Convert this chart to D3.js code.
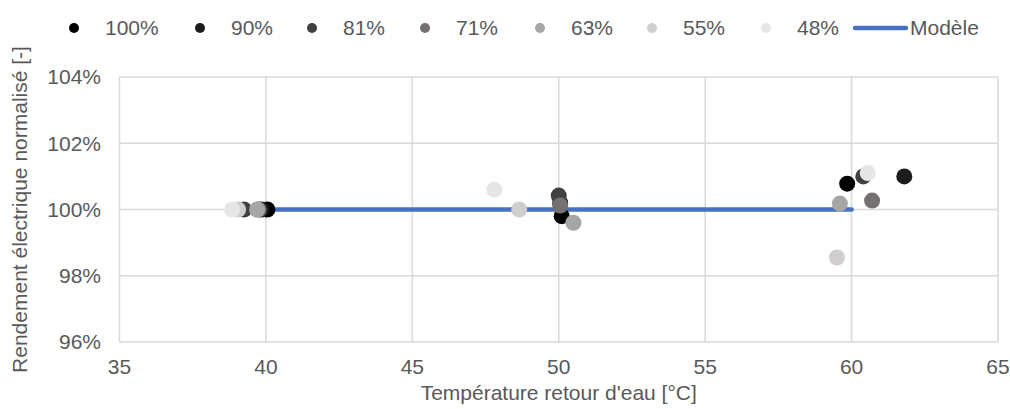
<!DOCTYPE html>
<html><head><meta charset="utf-8">
<script src="https://cdn.jsdelivr.net/npm/d3@7"></script>
<style>body{margin:0;background:#fff;} text{font-family:"Liberation Sans",Arial,sans-serif;fill:#595959;}</style>
</head><body>
<svg id="c" width="1010" height="409"></svg>
<script>
const seriesNames = ["100%","90%","81%","71%","63%","55%","48%"];
const seriesColors = ["#000000","#1c1c1c","#404040","#767171","#a6a6a6","#d0cece","#e7e6e6"];
const temps = [
  [40.05, 50.1, 59.85],
  [39.85, 50.05, 61.8],
  [39.25, 50.0, 60.4],
  [39.75, 50.05, 60.7],
  [39.7, 50.5, 59.6],
  [39.05, 48.65, 59.5],
  [38.85, 47.8, 60.55]
];
const rendements = [
  [1.000, 0.998, 1.0078],
  [1.000, 1.002, 1.0100],
  [1.000, 1.0042, 1.0100],
  [1.000, 1.0012, 1.0027],
  [1.000, 0.996, 1.0018],
  [1.000, 1.000, 0.9855],
  [1.000, 1.006, 1.0110]
];
const modelT = [40, 60];
const modelR = [1.0, 1.0];
const xTicks = [35,40,45,50,55,60,65];
const yTicks = [0.96,0.98,1.00,1.02,1.04];

const FS = 21;
const svg = d3.select("#c");
const x = d3.scaleLinear().domain([35,65]).range([119.5,998]);
const y = d3.scaleLinear().domain([0.96,1.04]).range([342,77]);

// gridlines
svg.append("g").selectAll("line").data(xTicks).join("line")
  .attr("x1",d=>x(d)).attr("x2",d=>x(d)).attr("y1",y(1.04)).attr("y2",y(0.96))
  .attr("stroke","#d9d9d9").attr("stroke-width",1.5);
svg.append("g").selectAll("line").data(yTicks).join("line")
  .attr("y1",d=>y(d)).attr("y2",d=>y(d)).attr("x1",x(35)).attr("x2",x(65))
  .attr("stroke","#d9d9d9").attr("stroke-width",1.5);

// tick labels
svg.append("g").selectAll("text").data(yTicks).join("text")
  .attr("x",101).attr("y",d=>y(d)).attr("dy","0.35em").attr("text-anchor","end")
  .attr("font-size",FS).text(d=>d3.format(".0%")(d));
svg.append("g").selectAll("text").data(xTicks).join("text")
  .attr("x",d=>x(d)).attr("y",367).attr("dy","0.35em").attr("text-anchor","middle")
  .attr("font-size",FS).text(d=>d);

// axis titles
svg.append("text").attr("x",(x(35)+x(65))/2).attr("y",393).attr("dy","0.35em")
  .attr("text-anchor","middle").attr("font-size",FS).text("Température retour d'eau [°C]");
svg.append("text").attr("transform",`translate(20,${(y(0.96)+y(1.04))/2}) rotate(-90)`)
  .attr("dy","0.35em").attr("text-anchor","middle").attr("font-size",FS)
  .text("Rendement électrique normalisé [-]");

// model line
const line = d3.line().x(d=>x(d[0])).y(d=>y(d[1]));
svg.append("path").datum(modelT.map((t,i)=>[t,modelR[i]])).attr("d",line)
  .attr("fill","none").attr("stroke","#4472c4").attr("stroke-width",4.5).attr("stroke-linecap","round");

// points
seriesNames.forEach((n,i)=>{
  svg.append("g").selectAll("circle").data(temps[i].map((t,j)=>[t,rendements[i][j]])).join("circle")
    .attr("cx",d=>x(d[0])).attr("cy",d=>y(d[1])).attr("r",8).attr("fill",seriesColors[i]);
});

// legend
const legX = [74,200,312,425,540,652,766];
const lg = svg.append("g");
seriesNames.forEach((n,i)=>{
  lg.append("circle").attr("cx",legX[i]).attr("cy",28).attr("r",5).attr("fill",seriesColors[i]);
  lg.append("text").attr("x",legX[i]+31).attr("y",28).attr("dy","0.35em").attr("font-size",FS).text(n);
});
lg.append("line").attr("x1",855).attr("x2",906).attr("y1",28).attr("y2",28)
  .attr("stroke","#4472c4").attr("stroke-width",4.5).attr("stroke-linecap","round");
lg.append("text").attr("x",910).attr("y",28).attr("dy","0.35em").attr("font-size",FS).text("Modèle");
</script>
</body></html>
